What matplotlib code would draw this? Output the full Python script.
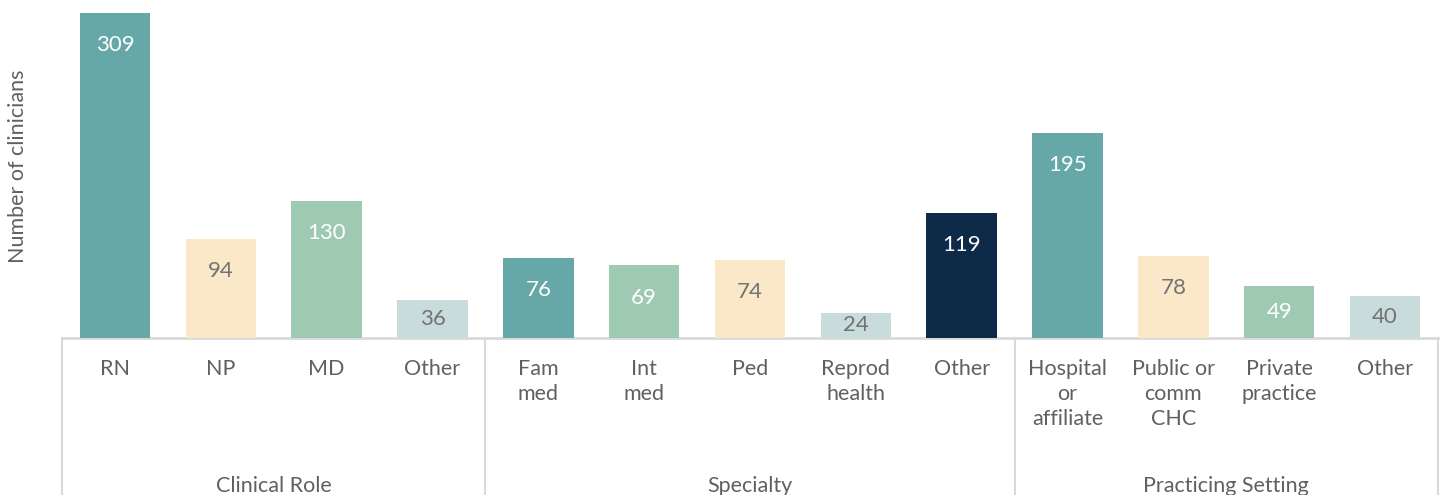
import matplotlib
matplotlib.use("Agg")
import matplotlib.pyplot as plt
import matplotlib.transforms as mtransforms

categories = ["RN", "NP", "MD", "Other",
              "Fam\nmed", "Int\nmed", "Ped", "Reprod\nhealth", "Other",
              "Hospital\nor\naffiliate", "Public or\ncomm\nCHC", "Private\npractice", "Other"]
values = [309, 94, 130, 36, 76, 69, 74, 24, 119, 195, 78, 49, 40]
groups = ["Clinical Role", "Specialty", "Practicing Setting"]
group_sizes = [4, 5, 4]

TEAL = "#66a8a8"
BEIGE = "#fae8c8"
GREEN = "#9ecab2"
LIGHT = "#c8dcdc"
NAVY = "#0d2a48"
colors = [TEAL, BEIGE, GREEN, LIGHT,
          TEAL, GREEN, BEIGE, LIGHT, NAVY,
          TEAL, BEIGE, GREEN, LIGHT]
label_colors = ["white", "#737373", "white", "#737373",
                "white", "white", "#737373", "#737373", "white",
                "white", "#737373", "white", "#737373"]

plt.rcParams['font.family'] = ['Lato', 'DejaVu Sans']
TXT = "#606060"
GRID = "#d9d9d9"
FS = 15.5

W, H = 1443, 495
fig = plt.figure(figsize=(W / 100, H / 100), dpi=100)
x0, x1, ybase = 62, 1438, 338
ax = fig.add_axes([x0 / W, (H - ybase) / H, (x1 - x0) / W, ybase / H])
ax.set_xlim(-0.5, len(values) - 0.5)
ax.set_ylim(0, 321.4)
for s in ["top", "right", "left", "bottom"]:
    ax.spines[s].set_visible(False)
ax.set_xticks([])
ax.set_yticks([])

xs = list(range(len(values)))
ax.bar(xs, values, width=0.665, color=colors, zorder=2)

for x, v, c in zip(xs, values, label_colors):
    y = max(v - 30.5, v / 2)
    ax.text(x, y, str(v), ha="center", va="center", color=c, fontsize=16, zorder=3)

ax.axhline(0, color=GRID, lw=2, zorder=1, clip_on=False)

trans = mtransforms.blended_transform_factory(ax.transData, ax.transAxes)
depth = (H - ybase) / ybase
bounds = [-0.5]
acc = -0.5
for g in group_sizes:
    acc += g
    bounds.append(acc)
for b in bounds:
    ax.plot([b, b], [0, -depth], transform=trans, color=GRID, lw=1.5, clip_on=False)

for x, lab in zip(xs, categories):
    ax.annotate(lab, xy=(x, 0), xycoords=trans, xytext=(0, -21), textcoords="offset pixels",
                ha="center", va="top", fontsize=FS, color=TXT, linespacing=1.3)

start = 0
for g, n in zip(groups, group_sizes):
    cx = start + (n - 1) / 2
    ax.annotate(g, xy=(cx, 0), xycoords=trans, xytext=(0, -(486 - ybase)), textcoords="offset pixels",
                ha="center", va="center", fontsize=FS, color=TXT)
    start += n

fig.text(18 / W, 1 - 166 / H, "Number of clinicians", rotation=90, ha="center", va="center",
         fontsize=FS, color=TXT)

fig.savefig("out.png", dpi=100, facecolor="white")
